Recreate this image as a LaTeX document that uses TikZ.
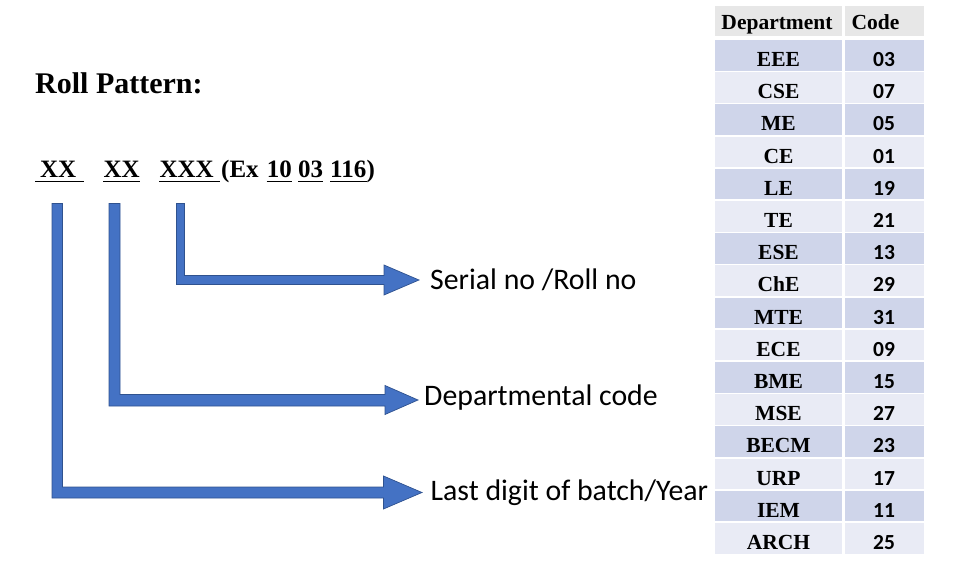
\documentclass[tikz,border=0pt]{standalone}
\usepackage{fontspec}
\setmainfont{Liberation Serif}
\newfontfamily\carlito{Carlito}
\usetikzlibrary{calc}
\definecolor{arrowblue}{HTML}{4472C4}
\definecolor{arrowedge}{HTML}{2F528F}
\definecolor{hdrgray}{HTML}{E7E7E7}
\definecolor{rowdark}{HTML}{CFD5EA}
\definecolor{rowlight}{HTML}{E9EBF5}
\begin{document}
\begin{tikzpicture}[x=1pt,y=-1pt,
  bentarrow/.style={fill=arrowblue,draw=arrowedge,line width=0.7pt,line join=miter},
  lbl/.style={inner sep=0pt,anchor=base west,font=\carlito\fontsize{29.8}{34}\selectfont},
  pat/.style={inner sep=0pt,anchor=base west,font=\bfseries\fontsize{25}{30}\selectfont},
  uln/.style={line width=1.8pt},
  hdr/.style={inner sep=0pt,font=\bfseries\fontsize{21.5}{24}\selectfont},
  deptcell/.style={inner sep=0pt,anchor=base,font=\bfseries\fontsize{21.5}{24}\selectfont},
  codecell/.style={inner sep=0pt,anchor=base,font=\carlito\bfseries\fontsize{21.5}{24}\selectfont}]
\useasboundingbox (0,0) rectangle (954,564);

% title
\node[inner sep=0pt,anchor=base west,font=\bfseries\fontsize{30}{34}\selectfont] (title) at (35,94) {Roll Pattern:};

% pattern line
\node[pat] (xa) at (40,178) {XX};
\node[pat] (xb) at (103.3,178) {XX};
\node[pat] (xc) at (159.3,178) {XXX};
\node[pat] (ex) at (221,178) {(Ex};
\node[pat] (n10) at (266.7,178) {10};
\node[pat] (n03) at (298,178) {03};
\node[pat] (n116) at (330,178) {116};
\node[pat] (cl) at (n116.base east) {)};
\draw[uln] ($(xa.base west)+(-5,3.5)$) -- ($(xa.base east)+(7,3.5)$);
\draw[uln] ($(xb.base west)+(0,3.5)$) -- ($(xb.base east)+(0,3.5)$);
\draw[uln] ($(xc.base west)+(0,3.5)$) -- ($(xc.base east)+(6.5,3.5)$);
\draw[uln] ($(n10.base west)+(0,3.5)$) -- ($(n10.base east)+(0,3.5)$);
\draw[uln] ($(n03.base west)+(0,3.5)$) -- ($(n03.base east)+(0,3.5)$);
\draw[uln] ($(n116.base west)+(0,3.5)$) -- ($(n116.base east)+(0,3.5)$);

% labels
\node[lbl] (serial) at (430,290) {Serial no /Roll no};
\node[lbl] (dept) at (424,405.5) {Departmental code};
\node[lbl] (year) at (430.5,500) {Last digit of batch/Year};

% bent arrows
\draw[bentarrow] (176.5,203.5) -- (184.5,203.5) -- (184.5,275.5) -- (384,275.5) -- (384,265) -- (419,280) -- (384,295) -- (384,284.5) -- (176.5,284.5) -- cycle;
\draw[bentarrow] (109,203.5) -- (120,203.5) -- (120,394.5) -- (385,394.5) -- (385,385.5) -- (418,400) -- (385,414.5) -- (385,406) -- (109,406) -- cycle;
\draw[bentarrow] (52,203.5) -- (62.5,203.5) -- (62.5,487) -- (383.5,487) -- (383.5,476) -- (422,492.5) -- (383.5,509) -- (383.5,498) -- (52,498) -- cycle;

% table header
\fill[hdrgray] (715,6) rectangle (841.5,36);
\fill[hdrgray] (844.5,6) rectangle (924,36);
\node[hdr,anchor=base] (hdep) at (777,30) {Department};
\node[hdr,anchor=base west] (hcode) at (851.5,30) {Code};

% table body
\foreach \nm/\cd [count=\i from 0] in {EEE/03,CSE/07,ME/05,CE/01,LE/19,TE/21,ESE/13,ChE/29,MTE/31,ECE/09,BME/15,MSE/27,BECM/23,URP/17,IEM/11,ARCH/25}{
  \pgfmathsetmacro\rtop{40+32.2*\i}
  \ifodd\i\def\rc{rowlight}\else\def\rc{rowdark}\fi
  \fill[\rc] (715,\rtop) rectangle (841.5,\rtop+30.6);
  \fill[\rc] (844.5,\rtop) rectangle (924,\rtop+30.6);
  \node[deptcell] (dep\i) at (778.5,\rtop+26.5) {\nm};
  \node[codecell] (code\i) at (884,\rtop+26.5) {\cd};
}
\end{tikzpicture}
\end{document}
